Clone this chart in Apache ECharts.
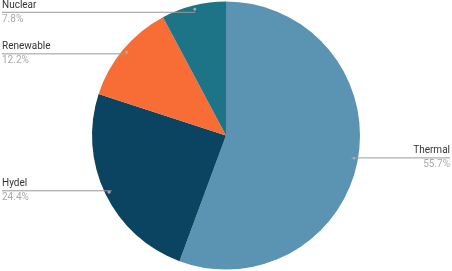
<!DOCTYPE html>
<html><head><meta charset="utf-8">
<script src="https://cdn.jsdelivr.net/npm/echarts@6/dist/echarts.min.js"></script>
<style>html,body{margin:0;padding:0;background:#fff}#c{width:452px;height:271px}</style>
</head><body><div id="c"></div>
<script>
const categories = ['Thermal', 'Hydel', 'Renewable', 'Nuclear'];
const values = [55.7, 24.4, 12.2, 7.8];
const colors = ['#5b93b2', '#0b4461', '#f86d35', '#1d7487'];

const W = 452, CX = 226, CY = 135.5, R = 134, RDOT = 127;
const total = values.reduce((a, b) => a + b, 0);
function dotPos(i) {
  let cum = 0;
  for (let k = 0; k < i; k++) cum += values[k];
  cum += values[i] / 2;
  const a = cum / total * Math.PI * 2;
  return [CX + RDOT * Math.sin(a), CY - RDOT * Math.cos(a)];
}

const base = { type: 'pie', center: [CX, CY], startAngle: 90, clockwise: true, animation: false };
const chart = echarts.init(document.getElementById('c'), null, { renderer: 'canvas' });
chart.setOption({
  animation: false,
  series: [
    Object.assign({}, base, {
      radius: [0, R],
      z: 1,
      data: categories.map((n, i) => ({ name: n, value: values[i], itemStyle: { color: colors[i] } })),
      label: { show: false },
      labelLine: { show: false }
    }),
    Object.assign({}, base, {
      radius: [0, R],
      z: 5,
      silent: true,
      avoidLabelOverlap: false,
      data: categories.map((n, i) => ({ name: n, value: values[i] })),
      itemStyle: { color: 'rgba(0,0,0,0)' },
      label: {
        show: true,
        position: 'outside',
        formatter: p => '{n|' + p.name + '}\n{v|' + p.value.toFixed(1) + '%}',
        rich: {
          n: { fontFamily: 'Roboto', fontSize: 10, color: '#333', lineHeight: 14 },
          v: { fontFamily: 'Roboto', fontSize: 10, color: '#aaa', lineHeight: 14 }
        }
      },
      labelLine: { show: true, length: 5, length2: 5, lineStyle: { color: '#999', width: 1 } },
      labelLayout: function (p) {
        const d = dotPos(p.dataIndex);
        const right = d[0] > CX;
        const ex = right ? W - 2 : 2;
        return {
          x: ex,
          y: d[1],
          align: right ? 'right' : 'left',
          verticalAlign: 'middle',
          labelLinePoints: [[d[0], d[1]], [d[0], d[1]], [ex, d[1]]]
        };
      }
    }),
    Object.assign({}, base, {
      radius: [120, R],
      z: 6,
      silent: true,
      data: categories.map((n, i) => ({ name: n, value: values[i] })),
      itemStyle: { color: 'rgba(0,0,0,0)' },
      label: { show: true, position: 'inside', formatter: '●', fontSize: 7, color: '#aaa' },
      labelLine: { show: false }
    })
  ]
});
</script></body></html>
